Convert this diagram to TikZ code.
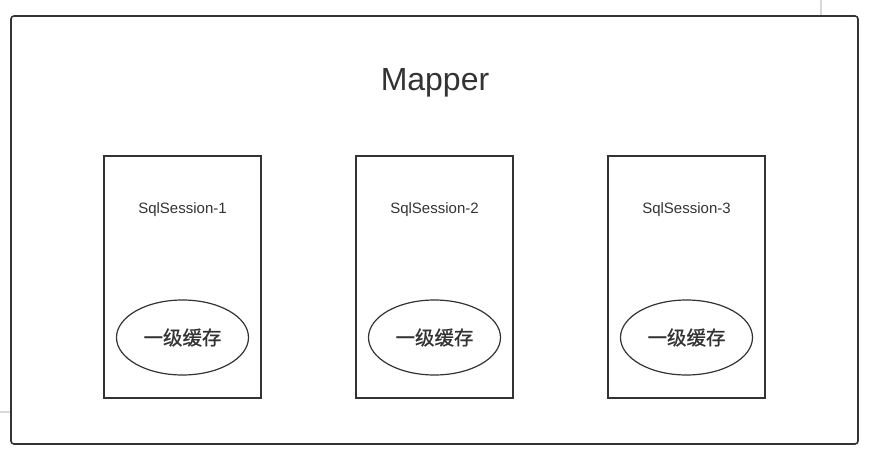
\documentclass[tikz,border=0pt]{standalone}
\usepackage{fontspec}
\setmainfont{Liberation Sans}
\newfontfamily\cjk[FakeBold=0.8]{Noto Sans CJK SC}
\usepackage{tikz}
\usetikzlibrary{shapes.geometric}
\usetikzlibrary{positioning}
\definecolor{linegray}{HTML}{333333}
\definecolor{markgray}{HTML}{D8D8D8}
\tikzset{
    frame/.style={
           rectangle,
           rounded corners=3pt,
           draw=linegray, line width=1.6pt,
           minimum width=847pt,
           minimum height=428pt,
           },
    session/.style={
           rectangle,
           draw=linegray, line width=1.6pt,
           minimum width=157pt,
           minimum height=242pt,
           outer sep=0pt,
           },
    cache/.style={
           ellipse,
           draw=linegray, line width=1.2pt,
           minimum width=132pt,
           minimum height=75pt,
           inner sep=0pt,
           font=\cjk\fontsize{19.5}{21}\selectfont,
           text=linegray,
           },
}

\begin{document}
\begin{tikzpicture}[x=1pt,y=1pt]

 % fix the page to the size of the screenshot
 \useasboundingbox (0,0) rectangle (870,-460);

 % faint lines of the canvas behind the frame
 \coordinate (topmark) at (821,0);
 \coordinate (leftmark) at (0,-412);

 % outer frame: the Mapper
 \node[frame] (Mapper) at (434.5,-230) {};
 \node[text=linegray, font=\fontsize{32}{34}\selectfont] (title) at (435,-83) {Mapper};

 \draw[markgray, line width=1.5pt] (topmark) -- (topmark |- Mapper.north);
 \draw[markgray, line width=1.5pt] (leftmark) -- (leftmark -| Mapper.west);

 % three sessions, side by side
 \node[session] (S1) at (182.5,-277) {};
 \node[session, right=95pt of S1] (S2) {};
 \node[session, right=95pt of S2] (S3) {};

 % session names and their first level cache
 \foreach \i in {1,2,3} {
   \node[text=linegray, font=\fontsize{15}{17}\selectfont] (L\i)
     at ([yshift=-54pt]S\i.north) {SqlSession-\i};
   \node[cache] (C\i) at ([yshift=-181.5pt]S\i.north) {一级缓存};
 }

\end{tikzpicture}
\end{document}
